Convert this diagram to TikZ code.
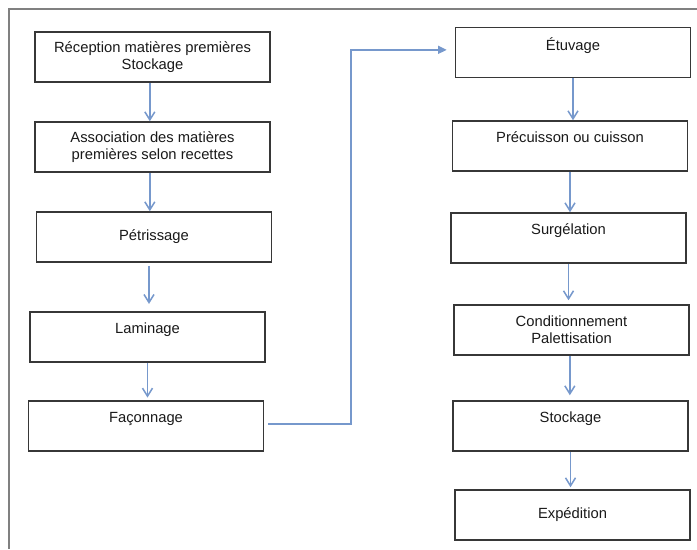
\documentclass[tikz,border=0pt]{standalone}
\usepackage{fontspec}
\setmainfont{Liberation Sans}
\usepackage{tikz}
\usetikzlibrary{arrows.meta, positioning, calc}
\definecolor{flowblue}{RGB}{118,152,204}
\definecolor{boxgray}{RGB}{55,55,55}
\definecolor{framegray}{RGB}{128,128,128}
\newcommand{\boxfont}{\fontsize{12.6}{14.5}\selectfont}
\tikzset{
	block/.style={rectangle, draw=boxgray, line width=1.3pt, align=center, minimum width=7.05cm, minimum height=1.5cm, text=black!90, font=\boxfont},
	arr/.style={-{Straight Barb[length=2.4mm, width=3mm]}, draw=flowblue, line width=1.3pt},
	jump/.style={-{Triangle[length=2.6mm, width=2.4mm]}, draw=flowblue, line width=1.3pt}
}

\begin{document}
\begin{tikzpicture}
        \useasboundingbox (0,0) rectangle (20.91,-16.47);
        \draw[framegray, line width=1.5pt] (20.91,-0.27) -- (0.27,-0.27) -- (0.27,-16.47);

        % left column
        \node[block] (recep) at (4.575, -1.71) {Réception matières premières\\Stockage};
        \node[block] (assoc) at (4.575, -4.41) {Association des matières\\premières selon recettes};
        \node[block] (petri) at (4.62, -7.11) {Pétrissage};
        \node[block] (lamin) at (4.425, -10.11) {Laminage\\\mbox{}};
        \node[block] (facon) at (4.38, -12.78) {Façonnage\\\mbox{}};

        % right column
        \node[block] (etuv) at (17.19, -1.575) {Étuvage\\\mbox{}};
        \node[block] (precu) at (17.1, -4.38) {Précuisson ou cuisson\\\mbox{}};
        \node[block] (surge) at (17.055, -7.14) {Surgélation\\\mbox{}};
        \node[block] (condi) at (17.145, -9.9) {Conditionnement\\Palettisation};
        \node[block] (stock) at (17.115, -12.78) {Stockage\\\mbox{}};
        \node[block] (exped) at (17.175, -15.45) {Expédition};

        \coordinate (turn) at (10.53, -12.72);

        \draw[arr] ([xshift=-0.08cm]recep.south) -- ([xshift=-0.08cm]recep.south |- assoc.north);
        \draw[arr] ([xshift=-0.08cm]assoc.south) -- ([xshift=-0.08cm]assoc.south |- petri.north);
        \draw[arr, shorten <=0.09cm, shorten >=0.22cm] ([xshift=-0.15cm]petri.south) -- ([xshift=-0.15cm]petri.south |- lamin.north);
        \draw[arr, shorten >=0.08cm] (lamin.south) -- (lamin.south |- facon.north);

        \draw[jump, shorten <=0.12cm, shorten >=0.24cm] (facon.east |- turn) -- (turn) |- ([yshift=0.08cm]etuv.west);

        \draw[arr] (etuv.south) -- (etuv.south |- precu.north);
        \draw[arr] (precu.south) -- (precu.south |- surge.north);
        \draw[arr, shorten >=0.12cm] (surge.south) -- (surge.south |- condi.north);
        \draw[arr, shorten >=0.15cm] ([xshift=-0.05cm]condi.south) -- ([xshift=-0.05cm]condi.south |- stock.north);
        \draw[arr, shorten >=0.06cm] (stock.south) -- (stock.south |- exped.north);
\end{tikzpicture}
\end{document}
